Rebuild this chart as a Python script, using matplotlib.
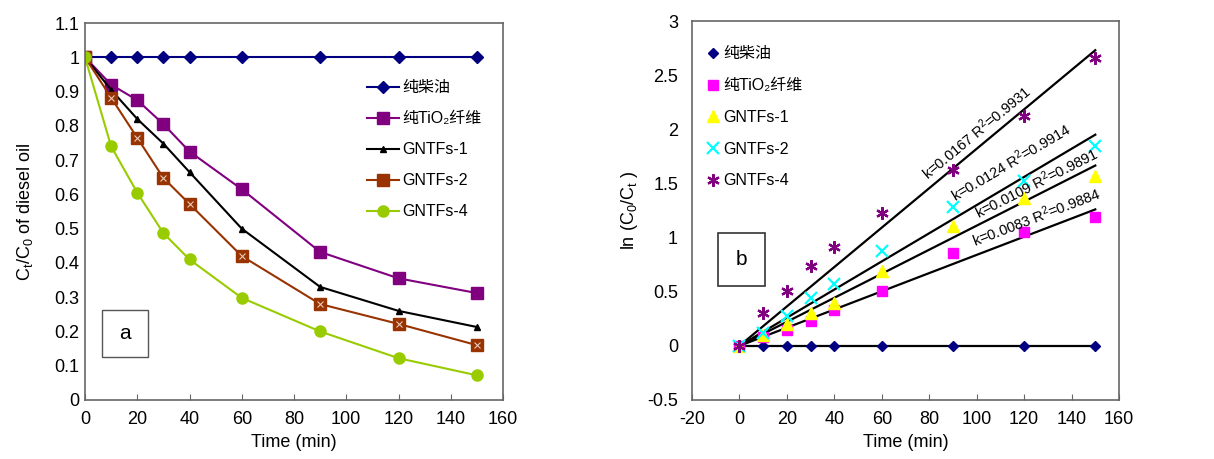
import numpy as np
import matplotlib
matplotlib.use("Agg")
import matplotlib.pyplot as plt
from matplotlib.patches import Rectangle

plt.rcParams['font.family'] = ['Liberation Sans', 'Noto Sans CJK SC', 'DejaVu Sans']
plt.rcParams['axes.unicode_minus'] = False
plt.rcParams['mathtext.default'] = 'regular'

# ── data ────────────────────────────────────────────────────────────────
time = [0, 10, 20, 30, 40, 60, 90, 120, 150]
labels = ['纯柴油', '纯TiO₂纤维', 'GNTFs-1', 'GNTFs-2', 'GNTFs-4']

# panel a: Ct/C0
ratio_diesel = [1, 1, 1, 1, 1, 1, 1, 1, 1]
ratio_tio2   = [1, 0.92, 0.875, 0.805, 0.725, 0.615, 0.432, 0.355, 0.312]
ratio_g1     = [1, 0.905, 0.82, 0.748, 0.665, 0.50, 0.33, 0.26, 0.213]
ratio_g2     = [1, 0.882, 0.765, 0.648, 0.572, 0.42, 0.28, 0.222, 0.16]
ratio_g4     = [1, 0.74, 0.605, 0.487, 0.41, 0.298, 0.20, 0.122, 0.072]

# panel b: ln(C0/Ct)
ln_diesel = [0, 0, 0, 0, 0, 0, 0, 0, 0]
ln_tio2   = [0, 0.08, 0.143, 0.23, 0.332, 0.503, 0.857, 1.049, 1.19]
ln_g1     = [0, 0.10, 0.20, 0.30, 0.40, 0.695, 1.108, 1.37, 1.564]
ln_g2     = [0, 0.12, 0.276, 0.44, 0.571, 0.875, 1.278, 1.52, 1.85]
ln_g4     = [0, 0.307, 0.503, 0.733, 0.913, 1.223, 1.627, 2.12, 2.656]

# drawn fit lines (slope through origin)
fit_slopes = [0.0182, 0.0130, 0.0111, 0.0084]
fit_texts = ['k=0.0167 R$^2$=0.9931', 'k=0.0124 R$^2$=0.9914',
             'k=0.0109 R$^2$=0.9891', 'k=0.0083 R$^2$=0.9884']
fit_text_pos = [(100, 1.97), (114.5, 1.70), (125, 1.50), (125, 1.19)]

fig = plt.figure(figsize=(12.14, 4.59), dpi=100)
ax_a = fig.add_axes([85/1214, 1 - 400/459, 418/1214, 377/459])
ax_b = fig.add_axes([692/1214, 1 - 400/459, 427/1214, 379/459])

# ── panel a ─────────────────────────────────────────────────────────────
ax = ax_a
ax.plot(time, ratio_diesel, '-D', color='#000080', ms=6, lw=1.5, label=labels[0])
ax.plot(time, ratio_tio2, '-s', color='#800080', mfc='#800080', ms=8, lw=1.5, label=labels[1])
ax.plot(time, ratio_g1, '-^', color='black', ms=5, lw=1.5, label=labels[2])
ax.plot(time, ratio_g2, '-s', color='#993300', mfc='#993300', ms=8, lw=1.5, label=labels[3])
ax.plot(time, ratio_g2, 'x', color='#e8c8b8', ms=5, mew=0.8)
ax.plot(time, ratio_g4, '-o', color='#99CC00', ms=8, lw=1.5, label=labels[4])

ax.set_xlim(0, 160)
ax.set_ylim(0, 1.1)
ax.set_xticks(np.arange(0, 161, 20))
ax.set_yticks(np.round(np.arange(0, 1.11, 0.1), 1))
ax.set_yticklabels(['0'] + [f'{v:.1f}' for v in np.arange(0.1, 0.95, 0.1)] + ['1', '1.1'])
ax.set_xlabel('Time (min)', fontsize=13, labelpad=4)
ax.set_ylabel('C$_t$/C$_0$ of diesel oil', fontsize=13, labelpad=14)
ax.legend(loc='upper left', bbox_to_anchor=(0.66, 0.865), frameon=False,
          fontsize=11.5, handlelength=2.0, labelspacing=1.0, handletextpad=0.2,
          borderaxespad=0)
ax.add_patch(Rectangle((0.04, 0.115), 0.11, 0.125, transform=ax.transAxes,
                       fill=False, ec='#555555', lw=1))
ax.text(0.095, 0.1775, 'a', transform=ax.transAxes, fontsize=15,
        ha='center', va='center')

# ── panel b ─────────────────────────────────────────────────────────────
ax = ax_b
xfit = np.array([0, 150])
for s in fit_slopes:
    ax.plot(xfit, s * xfit, color='black', lw=1.6, zorder=2)
ax.plot(time, ln_diesel, color='black', lw=1.6, zorder=2)

ax.plot(time, ln_diesel, 'D', color='#000080', ms=5, ls='none', label=labels[0], zorder=3)
ax.plot(time, ln_tio2, 's', color='#FF00FF', ms=7, ls='none', label=labels[1], zorder=3)
ax.plot(time, ln_g1, '^', color='#FFFF00', ms=8, ls='none', label=labels[2], zorder=3)
ax.plot(time, ln_g2, 'x', color='#00FFFF', ms=8, mew=1.6, ls='none', label=labels[3], zorder=3)
ax.plot(time, ln_g4, marker=(6, 2, 0), color='#800080', ms=9, mew=1.6, ls='none',
        label=labels[4], zorder=3)

for txt, (tx, ty), s in zip(fit_texts, fit_text_pos, fit_slopes):
    ax.text(tx, ty, txt, fontsize=10.5, ha='center', va='center',
            rotation=np.degrees(np.arctan(s)), transform_rotates_text=True,
            rotation_mode='anchor')

ax.set_xlim(-20, 160)
ax.set_ylim(-0.5, 3)
ax.set_xticks(np.arange(-20, 161, 20))
ax.set_yticks([-0.5, 0, 0.5, 1, 1.5, 2, 2.5, 3])
ax.set_yticklabels(['-0.5', '0', '0.5', '1', '1.5', '2', '2.5', '3'])
ax.set_xlabel('Time (min)', fontsize=13, labelpad=4)
ax.set_ylabel('ln (C$_0$/C$_t$ )', fontsize=13, labelpad=5)
ax.legend(loc='upper left', bbox_to_anchor=(0.02, 0.95), frameon=False,
          fontsize=11.5, handlelength=0.8, labelspacing=1.05, handletextpad=0.2,
          borderaxespad=0)
ax.add_patch(Rectangle((0.06, 0.3), 0.11, 0.14, transform=ax.transAxes,
                       fill=False, ec='#333333', lw=1.2))
ax.text(0.115, 0.37, 'b', transform=ax.transAxes, fontsize=15,
        ha='center', va='center')

for ax, ypad in ((ax_a, 4), (ax_b, 10)):
    for sp in ax.spines.values():
        sp.set_color('#666666')
        sp.set_linewidth(1.2)
    ax.tick_params(axis='x', direction='in', length=4, color='#666666',
                   labelsize=13, pad=8)
    ax.tick_params(axis='y', length=0, labelsize=13, pad=ypad)

fig.savefig('out.png', dpi=100)
